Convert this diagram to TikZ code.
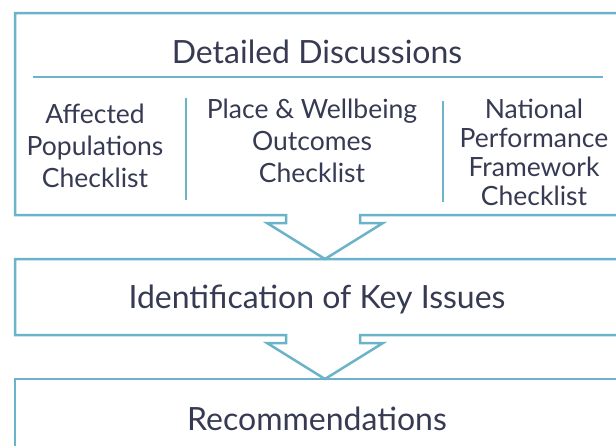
\documentclass[tikz,border=0pt]{standalone}
\usepackage{fontspec}
\setmainfont{Lato}
\usepackage{xcolor}
\usetikzlibrary{positioning}

\definecolor{lineblue}{HTML}{6AB3C8}
\definecolor{inkblue}{HTML}{363A52}

\begin{document}
\begin{tikzpicture}[x=1pt,y=-1pt,font=\fontsize{26.5}{32}\selectfont]

% =========================
% Styles
% =========================
\tikzset{
    frame/.style={draw=lineblue, line width=2.5pt, line join=miter},
    divider/.style={draw=lineblue, line width=2.5pt},
    caption/.style={text=inkblue, align=center, anchor=base, inner sep=0pt},
    heading/.style={caption, font=\fontsize{32}{38}\selectfont}
}

\useasboundingbox (0,0) rectangle (616,445);
\clip (0,0) rectangle (616,445);

% =========================
% Stage boxes with their down arrows
% =========================
\foreach \top/\bot in {13/215, 259/335} {
    \draw[frame] (286,\bot) -- (15,\bot) -- (15,\top) -- (640,\top) -- (640,\bot)
        -- (360,\bot) -- (360,\bot+8) -- (383,\bot+8) -- (325,\bot+44)
        -- (267,\bot+8) -- (286,\bot+8) -- cycle;
}
\draw[frame] (15,470) -- (15,379) -- (640,379) -- (640,470);

% =========================
% Detailed discussions
% =========================
\node[heading] (title) at (317,63) {Detailed Discussions};
\coordinate (ruleL) at (33,77);
\coordinate (ruleR) at (603,77);
\draw[divider] (ruleL) -- (ruleR);

% last line sits on the given baseline
\node[caption] (affected) at (95,187) {Affected\\Populations\\Checklist};
\node[caption] (place) at (312,182) {Place \& Wellbeing\\Outcomes\\Checklist};
\node[caption, font=\fontsize{26.5}{29}\selectfont] (national) at (534,205) {National\\Performance\\Framework\\Checklist};

\draw[divider] (186,98) -- (186,200);
\draw[divider] (443,101) -- (443,202);

% =========================
% Later stages
% =========================
\node[heading] (issues) at (317,308) {Identification of Key Issues};
\node[heading] (recs) at (317,430) {Recommendations};

\end{tikzpicture}
\end{document}
